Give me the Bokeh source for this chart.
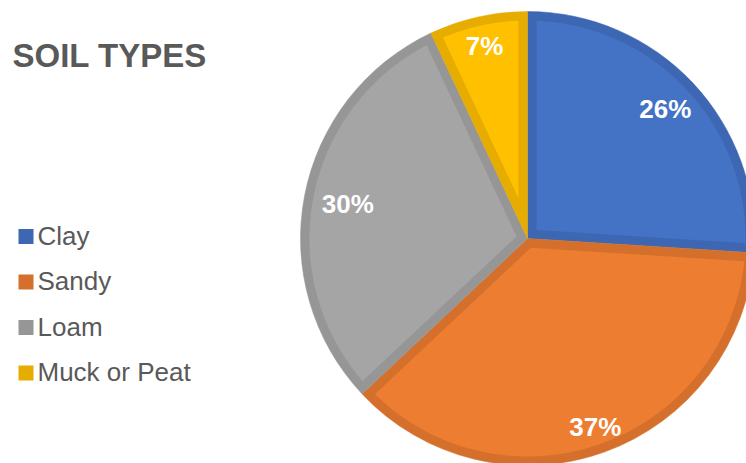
import numpy as np
from bokeh.plotting import figure
from bokeh.models import Range1d
from bokeh.core.properties import value
from bokeh.embed import file_html
from bokeh.resources import INLINE

# ---- data ----
categories = ["Clay", "Sandy", "Loam", "Muck or Peat"]
shares = [26, 37, 30, 7]
title_text = "SOIL TYPES"

# ---- style / layout ----
fill_colors = ["#4472C4", "#ED7D31", "#A5A5A5", "#FFC000"]
edge_colors = ["#3D67B2", "#D4702C", "#969696", "#E6AC00"]
label_radius = [189, 200, 183, 197]  # distance of each data label from the centre (px)

W, H = 746, 463
p = figure(width=W, height=H, output_backend="svg", toolbar_location=None,
           x_range=Range1d(0, W), y_range=Range1d(0, H), min_border=0)
p.axis.visible = False
p.grid.visible = False
p.outline_line_color = None
p.background_fill_color = "white"
p.border_fill_color = "white"

cx, cy, R, d = 527, H - 238, 227, 9
fr = np.array(shares, dtype=float) / sum(shares)
cum = np.concatenate([[0], np.cumsum(fr)[:-1]])
end_a = np.pi / 2 - cum * 2 * np.pi
start_a = end_a - fr * 2 * np.pi

# outer (darker border) wedges
p.wedge(x=cx, y=cy, radius=R, start_angle=start_a, end_angle=end_a,
        fill_color=edge_colors, line_color=edge_colors, line_width=0.5)

# inset lighter fill
xs, ys = [], []
r_in = R - d
for a0, a1 in zip(start_a, end_a):
    th = a1 - a0
    mid = (a0 + a1) / 2
    apex = d / np.sin(th / 2)
    ax, ay = cx + apex * np.cos(mid), cy + apex * np.sin(mid)
    ph0 = a0 + np.arcsin(d / r_in)
    ph1 = a1 - np.arcsin(d / r_in)
    ph = np.linspace(ph0, ph1, 120)
    xs.append(np.concatenate([[ax], cx + r_in * np.cos(ph)]))
    ys.append(np.concatenate([[ay], cy + r_in * np.sin(ph)]))
p.patches(xs=xs, ys=ys, fill_color=fill_colors, line_color=None)

# data labels
mid_a = (start_a + end_a) / 2
lr = np.array(label_radius, dtype=float)
p.text(x=cx + lr * np.cos(mid_a), y=cy + lr * np.sin(mid_a),
       text=[f"{s}%" for s in shares], text_color="white",
       text_font=value("Liberation Sans"), text_font_style="bold",
       text_font_size="26px", text_align="center", text_baseline="middle")

# title
p.text(x=[12], y=[H - 55], text=[title_text], text_color="#595959",
       text_font=value("Liberation Sans"), text_font_style="bold",
       text_font_size="33px", text_align="left", text_baseline="middle")

# legend
ly = H - (236 + 45.5 * np.arange(len(categories)))
p.rect(x=[25.5] * len(categories), y=ly, width=15, height=15,
       fill_color=edge_colors, line_color=None)
p.text(x=[37] * len(categories), y=ly + 1, text=categories, text_color="#595959",
       text_font=value("Liberation Sans"), text_font_size="26px",
       text_align="left", text_baseline="middle")

open("out.html", "w").write(file_html(p, INLINE))
